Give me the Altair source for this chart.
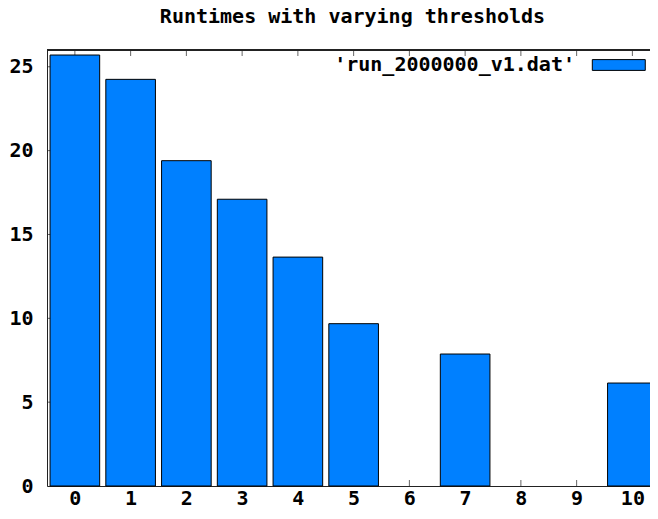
import altair as alt
import pandas as pd

# Data
thresholds = [0, 1, 2, 3, 4, 5, 6, 7, 8, 9, 10]
runtimes = [25.7, 24.25, 19.4, 17.1, 13.65, 9.68, 0, 7.87, 0, 0, 6.14]
series_name = "'run_2000000_v1.dat'"
x_ticks = list(range(0, 11))
y_ticks = [0, 5, 10, 15, 20, 25]

# the reference frame runs slightly past the right edge of the window
XMIN, XMAX = -0.5, 10.316
YMIN, YMAX = 0, 26
HALF = 0.445

FONT = "DejaVu Sans Mono"
FS = 20
BLUE = "#0080ff"
INK = "#222222"

df = pd.DataFrame({"t": thresholds, "runtime": runtimes, "series": series_name})
df = df[df["runtime"] > 0]
xt = pd.DataFrame({"v": x_ticks})
yt = pd.DataFrame({"v": [v for v in y_ticks if v > 0]})

xscale = alt.Scale(domain=[XMIN, XMAX], nice=False, zero=False, padding=0)
yscale = alt.Scale(domain=[YMIN, YMAX], nice=False, padding=0)

x_axis = alt.Axis(values=x_ticks, format="d", ticks=False, tickSize=0, labelPadding=2,
                  labelOffset=0,
                  grid=False, domainColor=INK, labelFont=FONT, labelFontSize=FS,
                  labelFontWeight="bold", labelColor="black", title=None)
y_axis = alt.Axis(values=y_ticks, format="d", ticks=False, tickSize=0, labelPadding=14,
                  grid=False, domainColor=INK, labelFont=FONT, labelFontSize=FS,
                  labelFontWeight="bold", labelColor="black", title=None)

bottom_ticks = alt.Chart(xt).mark_tick(orient="vertical", size=6, thickness=1,
                                       yOffset=-3, color=INK).encode(
    x=alt.X("v:Q", scale=xscale, axis=x_axis),
    y=alt.datum(YMIN, scale=yscale, axis=y_axis),
)
top_ticks = alt.Chart(xt).mark_tick(orient="vertical", size=6, thickness=1,
                                    yOffset=3, color=INK).encode(
    x=alt.X("v:Q", scale=xscale),
    y=alt.datum(YMAX),
)
left_ticks = alt.Chart(yt).mark_tick(orient="horizontal", size=6, thickness=1,
                                     xOffset=3, color=INK).encode(
    y=alt.Y("v:Q", scale=yscale),
    x=alt.datum(XMIN),
)

# legend key drawn to the right of its label (gnuplot style)
KEY_PATH = "M4.55,-0.9L13.38,-0.9L13.38,0.9L4.55,0.9Z"

bars = alt.Chart(df).transform_calculate(
    lo=f"datum.t - {HALF}", hi=f"datum.t + {HALF}"
).mark_bar(stroke="black", strokeWidth=1, opacity=1).encode(
    x=alt.X("lo:Q", scale=xscale),
    x2="hi:Q",
    y=alt.Y("runtime:Q", scale=yscale),
    y2=alt.datum(0),
    color=alt.Color(
        "series:N",
        scale=alt.Scale(domain=[series_name], range=[BLUE]),
        legend=alt.Legend(
            title=None, orient="none", legendX=508, legendY=5,
            symbolType=KEY_PATH, symbolSize=144,
            symbolStrokeColor="black", symbolStrokeWidth=1, symbolOpacity=1,
            labelAlign="right", labelOffset=0, labelBaseline="middle",
            labelFont=FONT, labelFontSize=FS, labelFontWeight="bold",
            labelColor="black", labelLimit=500, padding=0,
        ),
    ),
)

top_border = alt.Chart(xt).mark_rule(color=INK, strokeWidth=1).encode(
    y=alt.datum(YMAX),
)

chart = alt.layer(bottom_ticks, top_ticks, left_ticks, bars, top_border).properties(
    width=603,
    height=436,
    autosize=alt.AutoSizeParams(type="none"),
    padding={"left": 39, "top": 42, "right": 0, "bottom": 21},
    title=alt.TitleParams(
        "Runtimes with varying thresholds", font=FONT, fontSize=FS,
        fontWeight="bold", color="black", anchor="middle", frame="group",
        baseline="alphabetic", offset=7, dx=4,
    ),
).configure_view(stroke=None).configure(background="white")

chart.save("out.html", embed_options={"renderer": "svg", "actions": False})
